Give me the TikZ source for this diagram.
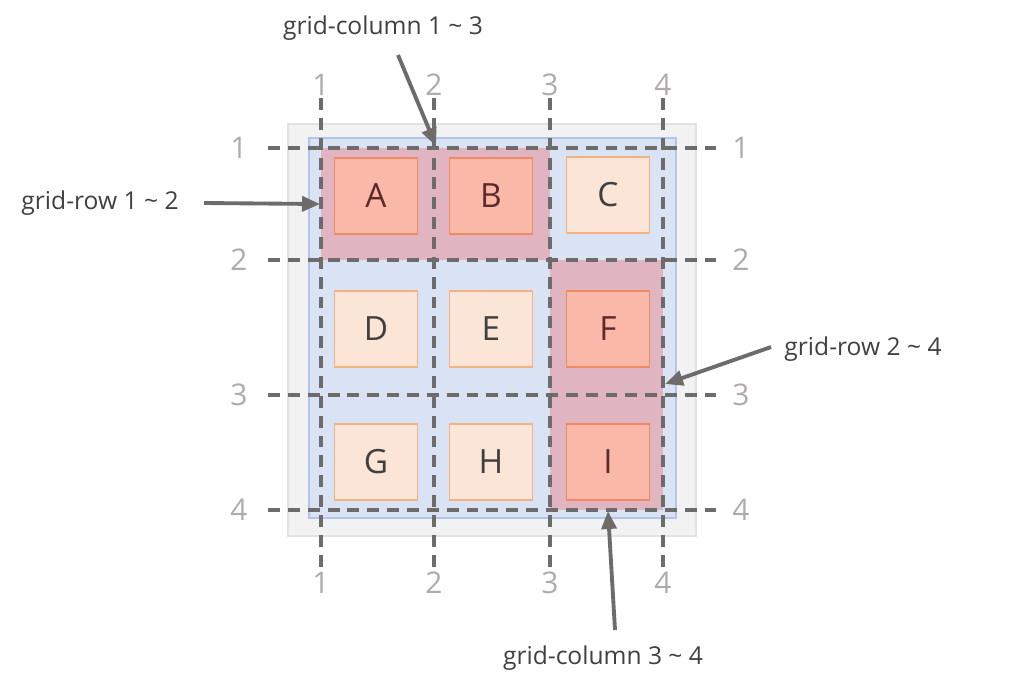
\documentclass[tikz,border=0pt]{standalone}
\usepackage{fontspec}
\setmainfont{Open Sans}
\usetikzlibrary{arrows.meta,positioning}
\definecolor{outerFill}{HTML}{F2F2F2}
\definecolor{outerLine}{HTML}{E2E2E2}
\definecolor{areaFill}{HTML}{DAE3F3}
\definecolor{areaLine}{HTML}{B0C6E8}
\definecolor{spanFill}{HTML}{E0B4C0}
\definecolor{hotFill}{HTML}{F9B8A8}
\definecolor{hotLine}{HTML}{F2885F}
\definecolor{hotText}{HTML}{5E2A2A}
\definecolor{softFill}{HTML}{FBE5D6}
\definecolor{softLine}{HTML}{F4B183}
\definecolor{lineGray}{HTML}{6E6B6B}
\definecolor{numGray}{HTML}{AFABAB}
\definecolor{textDark}{HTML}{404040}

\begin{document}
\begin{tikzpicture}[x=0.02cm,y=-0.02cm,
	gridline/.style={draw=lineGray,line width=1.8pt,dash pattern=on 6.8pt off 4.5pt},
	gridnum/.style={text=numGray,font=\fontsize{17}{17}\selectfont,inner sep=0pt},
	item/.style={draw=softLine,fill=softFill,text=textDark,line width=0.9pt,
		minimum width=1.66cm,minimum height=1.52cm,inner sep=0pt,
		font=\fontsize{19}{19}\selectfont},
	hot/.style={item,draw=hotLine,fill=hotFill,text=hotText},
	callout/.style={text=textDark,font=\fontsize{14}{14}\selectfont,inner sep=0pt},
	pointer/.style={draw=lineGray,line width=2.2pt,-{Triangle[length=0.36cm,width=0.3cm]}}]
	\useasboundingbox (0,0) rectangle (1030,691);
	% container and its grid area
	\draw[fill=outerFill,draw=outerLine,line width=0.8pt] (288,124) rectangle (696,536);
	\draw[fill=areaFill,draw=areaLine,line width=0.8pt] (309,138) rectangle (676,518);
	% spanned areas
	\fill[spanFill] (321,148) rectangle (550,260);
	\fill[spanFill] (550,260) rectangle (663,510);
	% items
	\node[hot]  (A) at (376,196) {A};
	\node[hot]  (B) at (491,196) {B};
	\node[item] (C) at (608,195) {C};
	\node[item] (D) at (376,329) {D};
	\node[item] (E) at (491,329) {E};
	\node[hot]  (F) at (608,329) {F};
	\node[item] (G) at (376,462) {G};
	\node[item] (H) at (491,462) {H};
	\node[hot]  (I) at (608,462) {I};
	% grid lines
	\foreach \i/\x in {1/321,2/434,3/550,4/663}{
		\draw[gridline] (\x,98) -- (\x,570);
		\node[gridnum] (ct\i) at (\x,85) {\i};
		\node[gridnum] (cb\i) at (\x,583) {\i};
	}
	\foreach \i/\y in {1/148,2/260,3/395,4/510}{
		\draw[gridline] (268,\y) -- (716,\y);
		\node[gridnum] (rl\i) at (239,\y) {\i};
		\node[gridnum] (rr\i) at (741,\y) {\i};
	}
	% callouts
	\node[callout] (colAB) at (383,28) {grid-column 1 \textasciitilde{} 3};
	\node[callout] (rowAB) at (100,203) {grid-row 1 \textasciitilde{} 2};
	\node[callout] (rowFI) at (863,349) {grid-row 2 \textasciitilde{} 4};
	\node[callout] (colFI) at (603,658) {grid-column 3 \textasciitilde{} 4};
	\coordinate (s1) at (398,55);  \coordinate (t1) at (436,146);
	\coordinate (s2) at (204,203); \coordinate (t2) at (320,204);
	\coordinate (s3) at (771,347); \coordinate (t3) at (665,384);
	\coordinate (s4) at (615,630); \coordinate (t4) at (608,511);
	\draw[pointer] (s1) -- (t1);
	\draw[pointer] (s2) -- (t2);
	\draw[pointer] (s3) -- (t3);
	\draw[pointer] (s4) -- (t4);
\end{tikzpicture}
\end{document}
